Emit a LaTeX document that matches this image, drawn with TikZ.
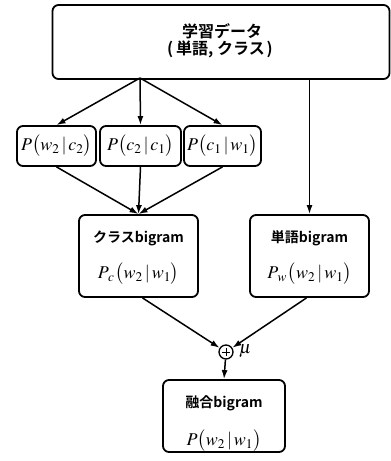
\documentclass[tikz,border=0pt]{standalone}
\usepackage{mathptmx}
\usepackage{fontspec}
\newfontfamily\jp{Noto Sans CJK JP Bold}
\usetikzlibrary{arrows.meta,calc}
\tikzset{
  box/.style={draw,line width=1.8pt,rounded corners=6pt,inner sep=0pt},
  arr/.style={line width=1.5pt,-{Latex[length=9pt,width=6pt]}},
  jl/.style={inner sep=0pt,font=\jp\fontsize{14}{16}\selectfont},
  mth/.style={inner sep=0pt,font=\fontsize{18}{20}\selectfont},
}
\begin{document}
\begin{tikzpicture}[x=1pt,y=-1pt]
\useasboundingbox (0,0) rectangle (391,461);
% top box
\node[box,minimum width=337pt,minimum height=74pt] (top) at (221,42) {};
\node[jl,font=\jp\fontsize{16}{18}\selectfont] (t1) at (222,31) {学習データ};
\node[jl,font=\jp\fontsize{16}{18}\selectfont] (t2) at (220,49) {(\hspace{3pt}単語, クラス\hspace{2pt})};
% P boxes
\node[box,minimum width=79pt,minimum height=40pt] (p1) at (56.5,146) {};
\node[mth] (p1t) at (56.5,146) {$P\bigl(w_2\,|\,c_2\bigr)$};
\node[box,minimum width=81pt,minimum height=40pt] (p2) at (140.5,146) {};
\node[mth] (p2t) at (140.5,146) {$P\bigl(c_2\,|\,c_1\bigr)$};
\node[box,minimum width=77pt,minimum height=40pt] (p3) at (222.5,146) {};
\node[mth] (p3t) at (222.5,146) {$P\bigl(c_1\,|\,w_1\bigr)$};
% bigram boxes
\node[box,minimum width=119pt,minimum height=82pt] (cb) at (138.5,256) {};
\node[jl] (cbt) at (138.5,238) {クラスbigram};
\node[mth] (cbm) at (138.5,274) {$P_{\mkern2mu c}\mkern1mu\bigl(w_2\,|\,w_1\bigr)$};
\node[box,minimum width=119pt,minimum height=82pt] (wb) at (309.5,256) {};
\node[jl] (wbt) at (309.5,238) {単語bigram};
\node[mth] (wbm) at (309.5,274) {$P_{\mkern2mu w}\mkern1mu\bigl(w_2\,|\,w_1\bigr)$};
% sum
\node[draw,circle,line width=1.3pt,minimum size=14pt,inner sep=0pt] (sum) at (226,352) {};
\draw[line width=1pt] ($(sum.center)+(-4,0)$) -- ($(sum.center)+(4,0)$);
\draw[line width=1pt] ($(sum.center)+(0,-4)$) -- ($(sum.center)+(0,4)$);
\node[mth,anchor=west] (mu) at (239,351) {$\mu$};
% fusion box
\node[box,minimum width=122pt,minimum height=72pt] (fb) at (224,416) {};
\node[jl] (fbt) at (224,403) {融合bigram};
\node[mth] (fbm) at (224,441) {$P\bigl(w_2\,|\,w_1\bigr)$};
% connectors
\coordinate (src) at (140,78);
\draw[arr] (src) -- (p1.north);
\draw[arr] (src) -- (p2.north);
\draw[arr] (src) -- (p3.north);
\draw[arr] (wb.north |- top.south) -- (wb.north);
\draw[arr] (p1.south) -- (cb.north);
\draw[arr] (p2.south) -- (cb.north);
\draw[arr] (p3.south) -- (cb.north);
\draw[arr] ($(cb.south)+(4,0)$) -- (sum);
\draw[arr] ($(wb.south)+(-3,0)$) -- (sum);
\draw[arr] (sum) -- (fb.north);
\end{tikzpicture}
\end{document}
